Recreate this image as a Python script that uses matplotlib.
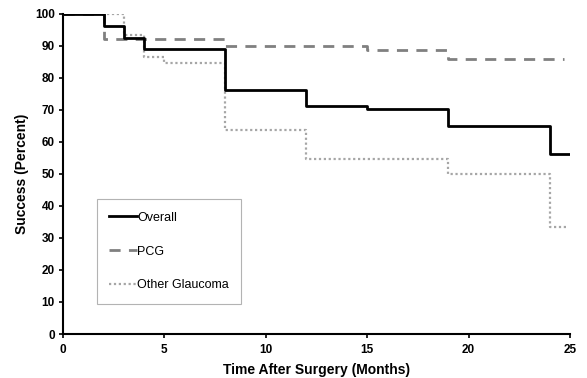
import matplotlib
matplotlib.use("Agg")
import matplotlib.pyplot as plt

plt.rcParams['font.family'] = ['Liberation Sans', 'DejaVu Sans']

overall_t = [0, 2, 3, 4, 8, 12, 15, 19, 24, 25]
overall_s = [100, 96.4, 92.6, 89.1, 76.3, 71.4, 70.3, 64.9, 56.2, 56.2]

pcg_t = [0, 2, 8, 15, 19, 24.7]
pcg_s = [100, 92.3, 90.0, 88.9, 85.8, 85.8]

other_t = [0, 3, 4, 5, 8, 12, 19, 24, 24.85]
other_s = [100, 93.3, 86.7, 84.6, 63.8, 54.6, 50.1, 33.3, 33.3]

fig = plt.figure(figsize=(5.87, 3.78), dpi=100)
ax = fig.add_axes([0.1073, 0.1164, 0.8637, 0.8466])

ax.plot(other_t, other_s, drawstyle='steps-post', color='#a6a6a6', lw=1.6,
        linestyle=(0, (1, 1.2)), label='Other Glaucoma', zorder=2)
ax.plot(pcg_t, pcg_s, drawstyle='steps-post', color='#808080', lw=2.0,
        linestyle=(0, (4, 3)), label='PCG', zorder=3)
ax.plot(overall_t, overall_s, drawstyle='steps-post', color='black', lw=2.0,
        label='Overall', zorder=4)

ax.set_xlim(0, 25)
ax.set_ylim(0, 100)
ax.set_xticks([0, 5, 10, 15, 20, 25])
ax.set_yticks(range(0, 101, 10))
for s in ['top', 'right']:
    ax.spines[s].set_visible(False)
for s in ['left', 'bottom']:
    ax.spines[s].set_linewidth(1.5)
ax.tick_params(direction='out', length=3, width=1.2, labelsize=8.5, pad=3)
ax.tick_params(axis='x', pad=4)
for lab in ax.get_xticklabels() + ax.get_yticklabels():
    lab.set_fontweight('bold')

ax.set_xlabel('Time After Surgery (Months)', fontsize=10, fontweight='bold', labelpad=5)
ax.set_ylabel('Success (Percent)', fontsize=10, fontweight='bold', labelpad=4)

h, l = ax.get_legend_handles_labels()
leg = ax.legend(h[::-1], l[::-1], loc='lower left', bbox_to_anchor=(0.067, 0.094),
                fontsize=9, frameon=True, fancybox=False, edgecolor='#a0a0a0',
                handlelength=2.2, handletextpad=0.0, labelspacing=1.75,
                borderpad=1.0, borderaxespad=0)
leg.get_frame().set_linewidth(0.8)

fig.savefig('out.png', dpi=100)
